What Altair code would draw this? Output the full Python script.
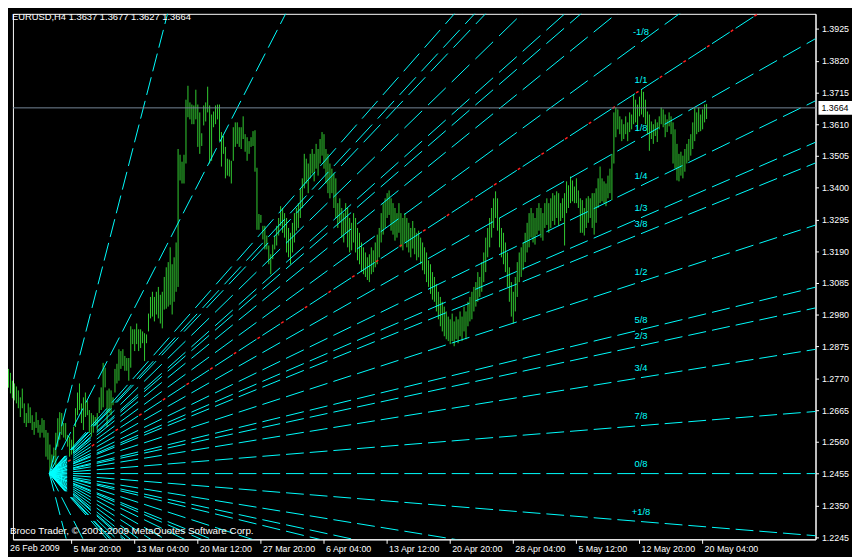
import math
import altair as alt
import pandas as pd

# ---------------- data ----------------
tick_idx = [0, 32, 64, 96, 128, 160, 192, 224, 256, 288, 320, 352]
tick_labels = ["26 Feb 2009", "5 Mar 20:00", "13 Mar 04:00", "20 Mar 12:00",
               "27 Mar 20:00", "6 Apr 04:00", "13 Apr 12:00", "20 Apr 20:00",
               "28 Apr 04:00", "5 May 12:00", "12 May 20:00", "20 May 04:00"]
price_ticks = [1.2245, 1.2350, 1.2455, 1.2560, 1.2665, 1.2770, 1.2875, 1.2980,
               1.3085, 1.3190, 1.3295, 1.3400, 1.3505, 1.3610, 1.3715, 1.3820, 1.3925]

# H4 bars, one per 4 hours, starting 26 Feb 2009 00:00
highs = [
    1.2801, 1.2788, 1.2762, 1.2753, 1.2743, 1.2730, 1.2707, 1.2736, 1.2687, 1.2655,
    1.2687, 1.2674, 1.2648, 1.2626, 1.2658, 1.2632, 1.2616, 1.2638, 1.2632, 1.2599,
    1.2590, 1.2551, 1.2518, 1.2541, 1.2590, 1.2638, 1.2658, 1.2655, 1.2622, 1.2622,
    1.2583, 1.2577, 1.2567, 1.2609, 1.2671, 1.2723, 1.2753, 1.2687, 1.2707, 1.2723,
    1.2697, 1.2665, 1.2655, 1.2648, 1.2642, 1.2655, 1.2707, 1.2740, 1.2821, 1.2805,
    1.2730, 1.2736, 1.2730, 1.2707, 1.2801, 1.2818, 1.2866, 1.2860, 1.2866, 1.2844,
    1.2837, 1.2837, 1.2942, 1.2932, 1.2932, 1.2951, 1.2932, 1.2932, 1.2925, 1.2919,
    1.2915, 1.2984, 1.3039, 1.3056, 1.3039, 1.3056, 1.3072, 1.3046, 1.3056, 1.3105,
    1.3137, 1.3154, 1.3203, 1.3147, 1.3170, 1.3219, 1.3528, 1.3509, 1.3486, 1.3509,
    1.3691, 1.3737, 1.3682, 1.3675, 1.3672, 1.3724, 1.3675, 1.3649, 1.3580, 1.3672,
    1.3682, 1.3734, 1.3672, 1.3642, 1.3652, 1.3672, 1.3675, 1.3675, 1.3584, 1.3571,
    1.3535, 1.3496, 1.3493, 1.3489, 1.3600, 1.3616, 1.3616, 1.3600, 1.3600, 1.3636,
    1.3577, 1.3567, 1.3554, 1.3567, 1.3587, 1.3590, 1.3466, 1.3313, 1.3310, 1.3274,
    1.3274, 1.3242, 1.3209, 1.3180, 1.3212, 1.3242, 1.3274, 1.3300, 1.3339, 1.3333,
    1.3316, 1.3300, 1.3267, 1.3251, 1.3284, 1.3316, 1.3333, 1.3349, 1.3398, 1.3431,
    1.3512, 1.3496, 1.3480, 1.3512, 1.3528, 1.3512, 1.3545, 1.3528, 1.3561, 1.3584,
    1.3577, 1.3528, 1.3512, 1.3480, 1.3463, 1.3447, 1.3431, 1.3349, 1.3365, 1.3333,
    1.3316, 1.3349, 1.3333, 1.3300, 1.3284, 1.3316, 1.3300, 1.3267, 1.3251, 1.3219,
    1.3203, 1.3186, 1.3170, 1.3180, 1.3203, 1.3193, 1.3219, 1.3245, 1.3267, 1.3316,
    1.3349, 1.3365, 1.3382, 1.3391, 1.3365, 1.3349, 1.3333, 1.3316, 1.3349, 1.3316,
    1.3300, 1.3316, 1.3300, 1.3284, 1.3267, 1.3290, 1.3267, 1.3251, 1.3258, 1.3235,
    1.3219, 1.3203, 1.3186, 1.3160, 1.3147, 1.3121, 1.3105, 1.3082, 1.3056, 1.3039,
    1.3023, 1.3007, 1.2991, 1.2974, 1.2965, 1.2984, 1.2958, 1.2974, 1.2965, 1.2991,
    1.2974, 1.3007, 1.2991, 1.3023, 1.3039, 1.3056, 1.3072, 1.3088, 1.3121, 1.3105,
    1.3154, 1.3186, 1.3235, 1.3267, 1.3300, 1.3333, 1.3365, 1.3388, 1.3365, 1.3300,
    1.3267, 1.3251, 1.3219, 1.3186, 1.3137, 1.3088, 1.3056, 1.3105, 1.3154, 1.3186,
    1.3203, 1.3219, 1.3251, 1.3284, 1.3316, 1.3333, 1.3316, 1.3300, 1.3333, 1.3349,
    1.3333, 1.3316, 1.3349, 1.3365, 1.3349, 1.3365, 1.3382, 1.3375, 1.3388, 1.3382,
    1.3349, 1.3365, 1.3382, 1.3421, 1.3408, 1.3437, 1.3424, 1.3404, 1.3431, 1.3391,
    1.3365, 1.3359, 1.3333, 1.3365, 1.3372, 1.3365, 1.3382, 1.3382, 1.3398, 1.3431,
    1.3470, 1.3431, 1.3421, 1.3414, 1.3440, 1.3463, 1.3512, 1.3649, 1.3665, 1.3659,
    1.3636, 1.3626, 1.3610, 1.3636, 1.3616, 1.3649, 1.3642, 1.3708, 1.3691, 1.3675,
    1.3701, 1.3724, 1.3717, 1.3691, 1.3652, 1.3642, 1.3619, 1.3610, 1.3626, 1.3616,
    1.3636, 1.3665, 1.3659, 1.3642, 1.3626, 1.3649, 1.3636, 1.3616, 1.3593, 1.3545,
    1.3512, 1.3519, 1.3506, 1.3528, 1.3545, 1.3561, 1.3577, 1.3616, 1.3665, 1.3649,
    1.3665, 1.3642, 1.3659, 1.3675, 1.3677,
]
lows = [
    1.2739, 1.2720, 1.2704, 1.2697, 1.2687, 1.2671, 1.2642, 1.2671, 1.2622, 1.2609,
    1.2622, 1.2622, 1.2599, 1.2583, 1.2606, 1.2590, 1.2574, 1.2590, 1.2574, 1.2511,
    1.2501, 1.2446, 1.2475, 1.2492, 1.2479, 1.2544, 1.2567, 1.2583, 1.2574, 1.2567,
    1.2544, 1.2511, 1.2518, 1.2524, 1.2609, 1.2648, 1.2665, 1.2622, 1.2599, 1.2642,
    1.2648, 1.2590, 1.2577, 1.2590, 1.2616, 1.2599, 1.2655, 1.2665, 1.2674, 1.2740,
    1.2609, 1.2655, 1.2648, 1.2681, 1.2723, 1.2753, 1.2762, 1.2801, 1.2811, 1.2795,
    1.2795, 1.2762, 1.2805, 1.2883, 1.2860, 1.2883, 1.2860, 1.2870, 1.2886, 1.2827,
    1.2886, 1.2925, 1.2968, 1.2974, 1.2958, 1.2981, 1.2968, 1.2951, 1.2935, 1.2997,
    1.3000, 1.3007, 1.3013, 1.2981, 1.3023, 1.3056, 1.3072, 1.3424, 1.3414, 1.3414,
    1.3480, 1.3633, 1.3626, 1.3610, 1.3610, 1.3626, 1.3535, 1.3512, 1.3538, 1.3606,
    1.3619, 1.3649, 1.3480, 1.3489, 1.3600, 1.3610, 1.3626, 1.3554, 1.3470, 1.3512,
    1.3431, 1.3440, 1.3437, 1.3414, 1.3489, 1.3535, 1.3545, 1.3535, 1.3528, 1.3561,
    1.3519, 1.3489, 1.3512, 1.3535, 1.3538, 1.3453, 1.3261, 1.3261, 1.3284, 1.3229,
    1.3196, 1.3196, 1.3147, 1.3114, 1.3164, 1.3196, 1.3209, 1.3242, 1.3274, 1.3251,
    1.3235, 1.3186, 1.3170, 1.3147, 1.3186, 1.3219, 1.3258, 1.3267, 1.3300, 1.3333,
    1.3398, 1.3414, 1.3382, 1.3431, 1.3447, 1.3421, 1.3463, 1.3440, 1.3480, 1.3506,
    1.3463, 1.3414, 1.3382, 1.3365, 1.3382, 1.3333, 1.3300, 1.3267, 1.3284, 1.3235,
    1.3219, 1.3251, 1.3203, 1.3186, 1.3193, 1.3219, 1.3186, 1.3160, 1.3147, 1.3121,
    1.3114, 1.3105, 1.3095, 1.3088, 1.3114, 1.3121, 1.3137, 1.3147, 1.3170, 1.3219,
    1.3245, 1.3267, 1.3300, 1.3310, 1.3258, 1.3245, 1.3225, 1.3235, 1.3251, 1.3203,
    1.3193, 1.3219, 1.3203, 1.3186, 1.3170, 1.3199, 1.3180, 1.3160, 1.3170, 1.3147,
    1.3127, 1.3114, 1.3088, 1.3072, 1.3049, 1.3030, 1.3023, 1.2991, 1.2965, 1.2942,
    1.2925, 1.2909, 1.2899, 1.2893, 1.2883, 1.2893, 1.2876, 1.2899, 1.2886, 1.2909,
    1.2893, 1.2925, 1.2899, 1.2942, 1.2958, 1.2965, 1.2991, 1.3007, 1.3023, 1.3039,
    1.3056, 1.3088, 1.3121, 1.3170, 1.3203, 1.3235, 1.3267, 1.3300, 1.3258, 1.3203,
    1.3170, 1.3147, 1.3121, 1.3072, 1.3023, 1.2974, 1.2951, 1.2991, 1.3039, 1.3088,
    1.3105, 1.3127, 1.3154, 1.3186, 1.3203, 1.3235, 1.3219, 1.3212, 1.3245, 1.3258,
    1.3235, 1.3225, 1.3267, 1.3277, 1.3251, 1.3267, 1.3290, 1.3277, 1.3300, 1.3274,
    1.3290, 1.3300, 1.3209, 1.3316, 1.3333, 1.3349, 1.3355, 1.3349, 1.3349, 1.3333,
    1.3251, 1.3251, 1.3242, 1.3267, 1.3284, 1.3300, 1.3267, 1.3245, 1.3284, 1.3333,
    1.3349, 1.3355, 1.3349, 1.3339, 1.3365, 1.3382, 1.3359, 1.3480, 1.3567, 1.3593,
    1.3577, 1.3554, 1.3561, 1.3577, 1.3554, 1.3584, 1.3593, 1.3610, 1.3616, 1.3587,
    1.3636, 1.3642, 1.3633, 1.3610, 1.3577, 1.3522, 1.3561, 1.3545, 1.3571, 1.3551,
    1.3593, 1.3610, 1.3600, 1.3567, 1.3584, 1.3603, 1.3577, 1.3480, 1.3463, 1.3424,
    1.3421, 1.3440, 1.3431, 1.3453, 1.3480, 1.3489, 1.3506, 1.3528, 1.3554, 1.3577,
    1.3584, 1.3587, 1.3593, 1.3616, 1.3627,
]

bid = 1.3664
header = "EURUSD,H4  1.3637 1.3677 1.3627 1.3664"
copyright_txt = "Broco Trader, \u00a9 2001-2009 MetaQuotes Software Corp."

fan_origin_idx = 21
fan_origin_price = 1.2455
fan_unit = 5.287e-5          # price per bar for one eighth
fan_k = [48, 24, 14, 40/3, 13, 12, 11, 32/3, 10, 9, 8, 7, 6, 16/3, 5, 4, 3, 8/3, 2, 1, 0,
         -1, -2, -8/3, -3, -4, -5, -16/3, -6, -7, -8, -9, -10, -32/3, -11, -12, -13, -40/3, -14, -24, -48]
label_k = [9, 8, 7, 6, 16/3, 5, 4, 3, 8/3, 2, 1, 0, -1]
label_txt = ["-1/8", "1/1", "1/8", "1/4", "1/3", "3/8", "1/2", "5/8", "2/3", "3/4", "7/8", "0/8", "+1/8"]
label_idx = 321

# ---------------- geometry ----------------
W, H = 814, 533
XMIN, XMAX = 2.5, 409.5
YMIN, YMAX = 1.22376, 1.39749
px_per_bar = W / (XMAX - XMIN)
px_per_price = H / (YMAX - YMIN)

CYAN = "#00FFFF"
GREEN = "#32CD32"
FONT = "Liberation Sans"

rows = []
names, dashes = [], []
for n, k in enumerate(fan_k):
    name = "f%02d" % n
    if k == 0:
        span = 420 - fan_origin_idx
    else:
        span = min(420 - fan_origin_idx, 0.2 / (abs(k) * fan_unit))
    rows.append({"line": name, "i": fan_origin_idx, "p": fan_origin_price})
    rows.append({"line": name, "i": fan_origin_idx + span,
                 "p": fan_origin_price + k * fan_unit * span})
    m = abs(k) * fan_unit * px_per_price / px_per_bar
    s = math.sqrt(1 + m * m) if m <= 1 else math.sqrt(1 + 1 / (m * m))
    names.append(name)
    dashes.append([18 * s, 6 * s])
fan_df = pd.DataFrame(rows)

k8 = 8
m8 = k8 * fan_unit * px_per_price / px_per_bar
s8 = math.sqrt(1 + m8 * m8)
span8 = 0.2 / (k8 * fan_unit)
red_df = pd.DataFrame({"i": [fan_origin_idx, fan_origin_idx + span8],
                       "p": [fan_origin_price, fan_origin_price + k8 * fan_unit * span8]})

lab_df = pd.DataFrame({"i": [label_idx] * len(label_k),
                       "p": [fan_origin_price + k * fan_unit * (label_idx - fan_origin_idx) for k in label_k],
                       "t": label_txt})

bars_df = pd.DataFrame({"i": list(range(len(highs))), "h": highs, "l": lows})
bid_df = pd.DataFrame({"p": [bid], "t": ["%.4f" % bid]})

# ---------------- scales / axes ----------------
label_map = "{" + ",".join('"%d":"%s"' % (a, b) for a, b in zip(tick_idx, tick_labels)) + "}"
xscale = alt.Scale(domain=[XMIN, XMAX], nice=False, zero=False)
yscale = alt.Scale(domain=[YMIN, YMAX], nice=False, zero=False)
xaxis = alt.Axis(values=tick_idx[1:], labelExpr=label_map + "[datum.value]", orient="bottom",
                 title=None, grid=False, domainColor="white", tickColor="white", tickSize=4,
                 labelColor="white", labelFont=FONT, labelFontSize=9, labelAlign="left",
                 labelBaseline="top", labelPadding=1, labelOffset=2, labelFlush=False,
                 labelOverlap=False)
yaxis = alt.Axis(values=price_ticks, format=".4f", orient="right", title=None, grid=False,
                 domainColor="white", tickColor="white", tickSize=3, labelColor="white",
                 labelFont=FONT, labelFontSize=9, labelPadding=3, labelFlush=False,
                 labelOverlap=False)

X = lambda f="i": alt.X(f"{f}:Q", scale=xscale, axis=xaxis)
Y = lambda f="p": alt.Y(f"{f}:Q", scale=yscale, axis=yaxis)

bars = alt.Chart(bars_df).mark_rule(color=GREEN, strokeWidth=1, xOffset=0.5).encode(
    x=X(), y=Y("h"), y2="l:Q")
fan = alt.Chart(fan_df).mark_line(clip=True, strokeWidth=1, color=CYAN).encode(
    x=X(), y=Y(), detail="line:N",
    strokeDash=alt.StrokeDash("line:N", scale=alt.Scale(domain=names, range=dashes), legend=None),
)
red = alt.Chart(red_df).mark_line(clip=True, strokeWidth=1.5, color="#FF2020",
                                  strokeDash=[0, 19 * s8, 2.5 * s8, 2.5 * s8]).encode(x=X(), y=Y())
labels = alt.Chart(lab_df).mark_text(color=CYAN, font=FONT, fontSize=9.5, dy=-10,
                                     baseline="middle", align="center").encode(x=X(), y=Y(), text="t:N")
bidline = alt.Chart(bid_df).mark_rule(color="#778899", strokeWidth=1).encode(y=Y())
bidbox = alt.Chart(bid_df).transform_calculate(
    p1="datum.p + 0.0023", p2="datum.p - 0.0023"
).mark_rect(color="white", clip=False).encode(
    x=alt.value(817), x2=alt.value(851), y=Y("p1"), y2="p2:Q")
bidtext = alt.Chart(bid_df).mark_text(color="black", font=FONT, fontSize=9, align="left",
                                      baseline="middle", clip=False).encode(
    x=alt.value(820), y=Y(), text="t:N")
head = alt.Chart(bid_df).mark_text(color="white", font=FONT, fontSize=9.5, align="left",
                                   baseline="middle").encode(
    x=alt.value(-1), y=alt.value(3), text=alt.value(header))
copy_t = alt.Chart(bid_df).mark_text(color="white", font=FONT, fontSize=10, align="left",
                                     baseline="middle").encode(
    x=alt.value(-3), y=alt.value(525), text=alt.value(copyright_txt))
first_tick = alt.Chart(bid_df).mark_text(color="white", font=FONT, fontSize=9, align="left",
                                         baseline="top", clip=False).encode(
    x=alt.value(-3), y=alt.value(538), text=alt.value(tick_labels[0]))

layers = [bars, fan, red, labels, bidline, bidbox, bidtext, head, copy_t, first_tick]

chart = alt.layer(*layers).properties(width=W, height=H, padding=0).configure(
    background="black"
).configure_view(stroke="white", strokeWidth=1)

chart.save("out.html", embed_options={"renderer": "svg", "actions": False})
